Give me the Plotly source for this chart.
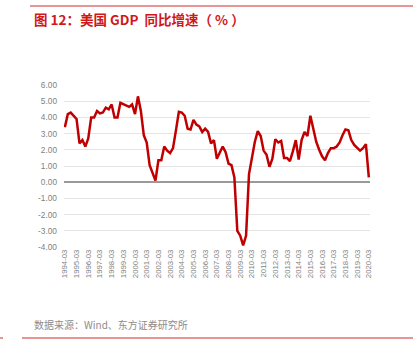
import plotly.graph_objects as go

years = list(range(1994, 2021))
quarters = [f"{y}-{m:02d}" for y in years for m in (3, 6, 9, 12)][:105]
tick_labels = [f"{y}-03" for y in years]

gdp_yoy = [
    3.4, 4.2, 4.3, 4.1,
    3.9, 2.4, 2.6, 2.2,
    2.7, 4.0, 4.0, 4.4,
    4.25, 4.3, 4.6, 4.5,
    4.8, 4.0, 4.0, 4.9,
    4.8, 4.7, 4.65, 4.8,
    4.2, 5.3, 4.4, 2.9,
    2.45, 1.05, 0.5, 0.1,
    1.35, 1.35, 2.2, 1.95,
    1.8, 2.1, 3.2, 4.35,
    4.3, 4.1, 3.3, 3.25,
    3.85, 3.55, 3.45, 3.1,
    3.3, 3.1, 2.4, 2.6,
    1.45, 1.85, 2.2, 1.85,
    1.15, 1.05, 0.3, -3.0,
    -3.3, -3.9, -3.3, 0.5,
    1.6, 2.5, 3.15, 2.85,
    1.95, 1.7, 0.95, 1.45,
    2.65, 2.45, 2.55, 1.5,
    1.5, 1.3, 1.9, 2.6,
    1.4, 2.6, 3.1, 2.85,
    4.1, 3.2, 2.5, 2.0,
    1.6, 1.35, 1.8, 2.1,
    2.1, 2.2, 2.45, 2.9,
    3.25, 3.2, 2.6, 2.3,
    2.1, 1.95, 2.1, 2.35,
    0.3,
]
y_ticks = [6, 5, 4, 3, 2, 1, 0, -1, -2, -3, -4]

title_text = "图 12：美国 GDP  同比增速（ % ）"
source_text = "数据来源：Wind、东方证券研究所"

fig = go.Figure()
fig.add_trace(go.Scatter(
    x=quarters, y=gdp_yoy, mode="lines",
    line=dict(color="#C00000", width=2.5),
    hoverinfo="skip", showlegend=False,
))

fig.update_layout(
    width=413, height=347,
    margin=dict(l=64, r=43, t=85, b=100),
    paper_bgcolor="white", plot_bgcolor="white",
    font=dict(family="Liberation Sans, Noto Sans CJK SC", color="#7f7f7f"),
    xaxis=dict(
        type="category",
        categoryorder="array", categoryarray=quarters,
        range=[-0.3, 104.4],
        tickmode="array", tickvals=tick_labels, ticktext=tick_labels,
        tickangle=-90, tickfont=dict(size=7.8, color="#7f7f7f"),
        showgrid=False, zeroline=False, showline=False, ticks="",
    ),
    yaxis=dict(
        range=[-4, 6],
        tickmode="array", tickvals=y_ticks,
        ticktext=[f"{v:.2f}" for v in y_ticks],
        tickfont=dict(size=8.3, color="#7f7f7f"),
        showgrid=True, gridcolor="#e4e4e4", gridwidth=1,
        zeroline=True, zerolinecolor="#9a9a9a", zerolinewidth=2,
        showline=False, ticks="", ticklabelstandoff=6,
    ),
)

fig.add_shape(type="line", xref="paper", yref="paper",
              x0=(30 - 64) / 306, x1=(413 - 64) / 306,
              y0=(247 - 6) / 162, y1=(247 - 6) / 162,
              line=dict(color="#d42a2a", width=1))
fig.add_shape(type="line", xref="paper", yref="paper",
              x0=(22 - 64) / 306, x1=(413 - 64) / 306,
              y0=(247 - 338) / 162, y1=(247 - 338) / 162,
              line=dict(color="#e07070", width=1.5))
fig.add_shape(type="line", xref="paper", yref="paper",
              x0=(0 - 64) / 306, x1=(3 - 64) / 306,
              y0=(247 - 338) / 162, y1=(247 - 338) / 162,
              line=dict(color="#e07070", width=1.5))

fig.add_annotation(text="<b>" + title_text + "</b>", xref="paper", yref="paper",
                   x=(32 - 64) / 306, y=(247 - 19) / 162,
                   xanchor="left", yanchor="middle", showarrow=False,
                   font=dict(family="Noto Sans CJK SC", size=13.5, color="#d01818"))
fig.add_annotation(text=source_text, xref="paper", yref="paper",
                   x=(32 - 64) / 306, y=(247 - 324) / 162,
                   xanchor="left", yanchor="middle", showarrow=False,
                   font=dict(family="Noto Sans CJK SC", size=10, color="#8c8c8c"))

fig.write_html("out.html")
